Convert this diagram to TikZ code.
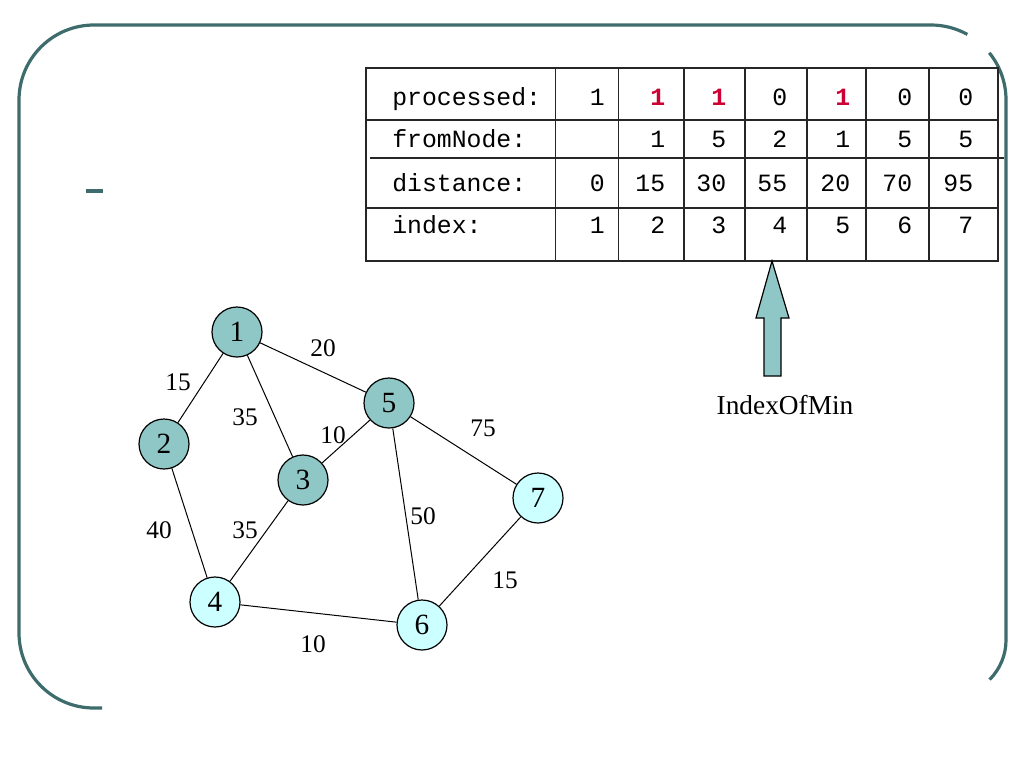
\documentclass[tikz,border=0pt]{standalone}
\usepackage{fontspec}
\setmainfont{Liberation Serif}
\setmonofont{Liberation Mono}
\definecolor{frameteal}{RGB}{62,107,107}
\definecolor{nodedark}{RGB}{143,198,198}
\definecolor{nodelight}{RGB}{204,255,255}
\definecolor{hired}{RGB}{204,0,51}
\begin{document}
\begin{tikzpicture}[x=0.75pt,y=-0.75pt,
  vtx/.style={circle,draw=black,line width=0.9pt,minimum size=37.5pt,inner sep=0pt,font=\fontsize{22}{24}\selectfont},
  dark/.style={vtx,fill=nodedark},
  light/.style={vtx,fill=nodelight},
  edge/.style={line width=0.75pt},
  wlab/.style={font=\fontsize{19}{21}\selectfont,inner sep=0pt},
  cell/.style={font=\fontsize{18.6}{20}\selectfont\ttfamily,anchor=base east,inner sep=0pt},
  hot/.style={cell,text=hired,font=\fontsize{18.6}{20}\selectfont\ttfamily\bfseries},
  lab/.style={font=\fontsize{18.6}{20}\selectfont\ttfamily,anchor=base west,inner sep=0pt},
  grid/.style={line width=0.9pt,draw=black!85},
  frame/.style={draw=frameteal,line width=2.4pt}]
\useasboundingbox (0,0) rectangle (1024,768);
% frame
\draw[frame] (102,708) -- (94,708) arc[start angle=90,end angle=180,radius=75]
  -- (19,100) arc[start angle=180,end angle=270,radius=75]
  -- (931,25) arc[start angle=270,end angle=299,radius=75];
\draw[frame] (989.3,52.8) arc[start angle=321,end angle=360,radius=75]
  -- (1006,640) arc[start angle=0,end angle=45,radius=56];
\draw[frameteal,line width=3pt] (86,191) -- (103,191);
% table
\draw[grid] (366,68) rectangle (998,261);
\draw[grid] (366,120) -- (998,120);
\draw[grid] (370,158) -- (1004,158);
\draw[grid] (366,208) -- (998,208);
\foreach \x in {555.5,618.5,684,745,807,866,929} \draw[grid] (\x,68) -- (\x,261);
\node[lab] (lp) at (392,105) {processed:};
\node[lab] (lf) at (392,147) {fromNode:};
\node[lab] (ld) at (392,191) {distance:};
\node[lab] (li) at (392,233) {index:};
% processed row
\node[cell] (p1) at (605,105) {1};
\node[hot]  (p2) at (665.5,105) {1};
\node[hot]  (p3) at (726.5,105) {1};
\node[cell] (p4) at (787.5,105) {0};
\node[hot]  (p5) at (850.5,105) {1};
\node[cell] (p6) at (912.5,105) {0};
\node[cell] (p7) at (973.5,105) {0};
% fromNode row
\foreach \v/\x [count=\i from 2] in {1/665.5,5/726.5,2/787.5,1/850.5,5/912.5,5/973.5}
  \node[cell] (f\i) at (\x,147) {\v};
% distance row
\node[cell] (d1) at (605,191) {0};
\foreach \v/\x [count=\i from 2] in {15/665.5,30/726.5,55/787.5,20/850.5,70/912.5,95/973.5}
  \node[cell] (d\i) at (\x,191) {\v};
% index row
\foreach \v/\x in {1/605,2/665.5,3/726.5,4/787.5,5/850.5,6/912.5,7/973.5}
  \node[cell] (i\v) at (\x,233) {\v};
% arrow
\draw[line width=0.9pt,fill=nodedark] (772,261) -- (789,318) -- (781,318) -- (781,376)
  -- (764,376) -- (764,318) -- (756,318) -- cycle;
\node[font=\fontsize{20.5}{22}\selectfont,inner sep=0pt] (iom) at (785,405) {IndexOfMin};
% graph
\node[dark]  (n1) at (237,332) {1};
\node[dark]  (n2) at (164,444) {2};
\node[dark]  (n3) at (303,480) {3};
\node[dark]  (n5) at (389,403) {5};
\node[light] (n7) at (538,498) {7};
\node[light] (n4) at (215,602) {4};
\node[light] (n6) at (422,625) {6};
\draw[edge] (n1) -- (n2);
\draw[edge] (n1) -- (n3);
\draw[edge] (n1) -- (n5);
\draw[edge] (n3) -- (n5);
\draw[edge] (n5) -- (n7);
\draw[edge] (n5) -- (n6);
\draw[edge] (n2) -- (n4);
\draw[edge] (n3) -- (n4);
\draw[edge] (n4) -- (n6);
\draw[edge] (n6) -- (n7);
\node[wlab] (w15) at (178,382) {15};
\node[wlab] (w20) at (323,348) {20};
\node[wlab] (w35a) at (245,417) {35};
\node[wlab] (w10a) at (333,435) {10};
\node[wlab] (w75) at (483,428) {75};
\node[wlab] (w40) at (159,530) {40};
\node[wlab] (w35b) at (245,530) {35};
\node[wlab] (w50) at (423,516) {50};
\node[wlab] (w15b) at (505,580) {15};
\node[wlab] (w10b) at (313,644) {10};
\end{tikzpicture}
\end{document}
